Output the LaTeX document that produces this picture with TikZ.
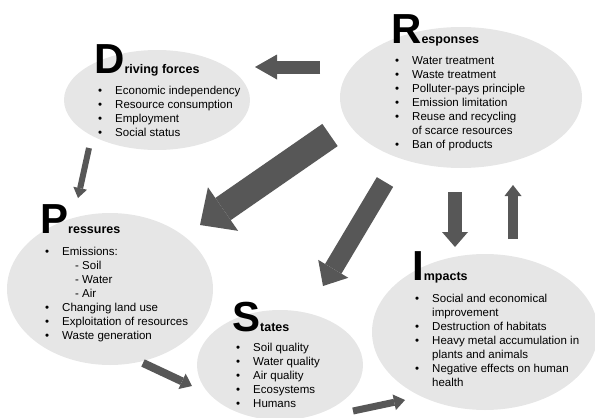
\documentclass[tikz,border=0pt]{standalone}
\usepackage{fontspec}
\setmainfont{Liberation Sans}
\usetikzlibrary{shapes.geometric,arrows.meta}

\definecolor{phasefill}{HTML}{E6E6E6}
\definecolor{flowgray}{HTML}{575757}
\newcommand{\phaseletter}[1]{{\fontsize{42}{42}\selectfont #1}}
\newcommand{\itemfont}{\fontsize{11.5}{14}\selectfont}

\begin{document}
\begin{tikzpicture}[x=1pt,y=-1pt,
  phase/.style={ellipse,fill=phasefill,inner sep=0pt},
  phasetitle/.style={anchor=base west,inner sep=0pt,font=\fontsize{12.5}{14}\selectfont\bfseries},
  phaseitems/.style={anchor=base west,inner sep=0pt,font=\itemfont},
  flow/.style={draw=flowgray}]
\useasboundingbox (0,0) rectangle (595,418);

\node[phase,minimum width=186pt,minimum height=100pt] (drv) at (157,100) {};
\node[phase,minimum width=242pt,minimum height=141pt] (resp) at (461,97.5) {};
\node[phase,minimum width=206pt,minimum height=152pt] (pres) at (110,289) {};
\node[phase,minimum width=166pt,minimum height=110pt] (stat) at (280,365) {};
\node[phase,minimum width=226pt,minimum height=156pt] (imp) at (485,332) {};

\node[phasetitle] (drvtitle) at (94,73) {\phaseletter{D}riving forces};
\node[phasetitle] (resptitle) at (391,43) {\phaseletter{R}esponses};
\node[phasetitle] (prestitle) at (40,233) {\phaseletter{P}ressures};
\node[phasetitle] (stattitle) at (232,331) {\phaseletter{S}tates};
\node[phasetitle] (imptitle) at (412,280) {\phaseletter{I}mpacts};

\node[phaseitems] (drvitems) at (98,94) {\begin{tabular}[t]{@{}p{17pt}@{}l@{}}
• & Economic independency\\
• & Resource consumption\\
• & Employment\\
• & Social status
\end{tabular}};
\node[phaseitems] (respitems) at (395,64) {\begin{tabular}[t]{@{}p{17pt}@{}l@{}}
• & Water treatment\\
• & Waste treatment\\
• & Polluter-pays principle\\
• & Emission limitation\\
• & Reuse and recycling\\
  & of scarce resources\\
• & Ban of products
\end{tabular}};
\node[phaseitems] (presitems) at (45,255) {\begin{tabular}[t]{@{}p{17pt}@{}l@{}}
• & Emissions:\\
  & \hspace{13pt}- Soil\\
  & \hspace{13pt}- Water\\
  & \hspace{13pt}- Air\\
• & Changing land use\\
• & Exploitation of resources\\
• & Waste generation
\end{tabular}};
\node[phaseitems] (statitems) at (236,351) {\begin{tabular}[t]{@{}p{17pt}@{}l@{}}
• & Soil quality\\
• & Water quality\\
• & Air quality\\
• & Ecosystems\\
• & Humans
\end{tabular}};
\node[phaseitems] (impitems) at (415,302) {\begin{tabular}[t]{@{}p{17pt}@{}l@{}}
• & Social and economical\\
  & improvement\\
• & Destruction of habitats\\
• & Heavy metal accumulation in\\
  & plants and animals\\
• & Negative effects on human\\
  & health
\end{tabular}};

% arrow ends
\coordinate (rdtail) at (320,67);
\coordinate (rdtip) at (255,67);
\coordinate (rptail) at (330,135);
\coordinate (rptip) at (200,225);
\coordinate (rstail) at (385,182);
\coordinate (rstip) at (323,286);
\coordinate (dptail) at (89,148);
\coordinate (dptip) at (78,198);
\coordinate (pstail) at (143,363);
\coordinate (pstip) at (192,386);
\coordinate (sitail) at (353,411);
\coordinate (sitip) at (405,400);
\coordinate (ritail) at (455,192);
\coordinate (ritip) at (455,247);
\coordinate (irtail) at (513,239);
\coordinate (irtip) at (513,185);

\draw[flow,line width=13pt,-{Triangle[length=22pt,width=25pt,line width=0pt]}] (rdtail) -- (rdtip);
\draw[flow,line width=27pt,-{Triangle[length=28pt,width=53pt,line width=0pt]}] (rptail) -- (rptip);
\draw[flow,line width=19pt,-{Triangle[length=20pt,width=35pt,line width=0pt]}] (rstail) -- (rstip);
\draw[flow,line width=6pt,-{Triangle[length=10pt,width=14pt,line width=0pt]}] (dptail) -- (dptip);
\draw[flow,line width=8pt,-{Triangle[length=11pt,width=17pt,line width=0pt]}] (pstail) -- (pstip);
\draw[flow,line width=7pt,-{Triangle[length=11pt,width=16pt,line width=0pt]}] (sitail) -- (sitip);
\draw[flow,line width=14pt,-{Triangle[length=15pt,width=26pt,line width=0pt]}] (ritail) -- (ritip);
\draw[flow,line width=10pt,-{Triangle[length=11pt,width=17pt,line width=0pt]}] (irtail) -- (irtip);
\end{tikzpicture}
\end{document}
